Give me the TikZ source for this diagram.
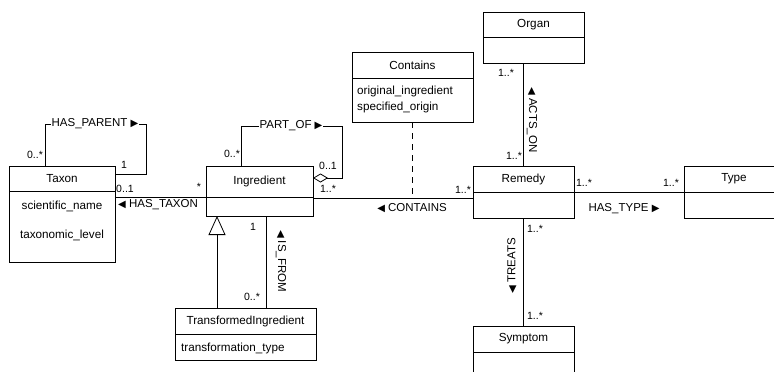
\documentclass[tikz,border=0pt]{standalone}
\usepackage{fontspec}
\setmainfont{Liberation Sans}
\newfontfamily\symfont{DejaVu Sans}
\usetikzlibrary{arrows.meta}

% small direction triangles for association names
\newcommand\dirleft{{\symfont\fontsize{10}{11}\selectfont ◀}}
\newcommand\dirright{{\symfont\fontsize{10}{11}\selectfont ▶}}

\tikzset{
  ln/.style={line width=0.8pt},
  classbox/.style={draw, line width=0.8pt, anchor=north west, inner sep=0pt, outer sep=0pt},
  titletext/.style={font=\fontsize{11.7}{14}\selectfont, inner sep=0pt},
  attrtext/.style={font=\fontsize{11.7}{14}\selectfont, inner sep=0pt},
  assoclabel/.style={font=\fontsize{11.5}{14}\selectfont, inner sep=1pt},
  mult/.style={font=\fontsize{10.5}{12}\selectfont, inner sep=0pt},
  dashline/.style={line width=0.8pt, dash pattern=on 6pt off 5pt},
}

% class box: name, x1, y1, x2, y2, divider y, title
\newcommand\umlclass[7]{%
  \node[classbox, minimum width={(#4-#2)*1pt}, minimum height={(#5-#3)*1pt}] (#1) at (#2,#3) {};
  \draw[ln] (#2,#6) -- (#4,#6);
  \node[titletext] (#1-title) at ({(#2+#4)/2},{(#3+#6)/2}) {#7};
}

\begin{document}
\begin{tikzpicture}[x=1pt,y=-1pt]
  \path[use as bounding box, clip] (0,0) rectangle (774,372);
  \fill[white] (0,0) rectangle (774,372);

  % classes
  \umlclass{taxon}{9}{166}{115}{262}{191}{Taxon}
  \node[attrtext] (taxon-a1) at (62,206) {scientific\_name};
  \node[attrtext] (taxon-a2) at (62,235) {taxonomic\_level};

  \umlclass{ingr}{206}{166}{313}{216}{197}{Ingredient}

  \umlclass{ti}{175}{308}{316}{360}{334}{TransformedIngredient}
  \node[attrtext, anchor=west] (ti-a1) at (181,348) {transformation\_type};

  \umlclass{contains}{352}{52}{473}{122}{78}{Contains}
  \node[attrtext, anchor=west] (contains-a1) at (357,91) {original\_ingredient};
  \node[attrtext, anchor=west] (contains-a2) at (357,107) {specified\_origin};

  \umlclass{organ}{483}{12}{584}{63}{37}{Organ}
  \umlclass{remedy}{473}{166}{574}{218}{192}{Remedy}
  \umlclass{type}{684}{166}{784}{218}{192}{Type}
  \umlclass{symptom}{473}{326}{574}{390}{352}{Symptom}

  % HAS_PARENT (self association of Taxon)
  \draw[ln] (45,0 |- taxon.north) -- (45,124) -- (146,124) -- (146,174) -- (taxon.east |- 0,174);
  \node[assoclabel, fill=white] (hasparent) at (95,124) {HAS\_PARENT \dirright};
  \node[mult] (hp-m1) at (35,155) {0..*};
  \node[mult] (hp-m2) at (124,165) {1};

  % PART_OF (aggregation of Ingredient)
  \draw[ln, -{Diamond[open, length=15pt, width=9pt, line width=0.8pt]}]
    (241,0 |- ingr.north) -- (241,126) -- (342,126) -- (342,178) -- (ingr.east |- 0,178);
  \node[assoclabel, fill=white] (partof) at (291,126) {PART\_OF \dirright};
  \node[mult] (po-m1) at (232,154) {0..*};
  \node[mult] (po-m2) at (328,166) {0..1};

  % HAS_TAXON
  \draw[ln] (taxon.east |- 0,197) -- (ingr.west |- 0,197);
  \node[assoclabel] (hastaxon) at (158,205) {\dirleft\ HAS\_TAXON};
  \node[mult] (ht-m1) at (125,189) {0..1};
  \node[mult] (ht-m2) at (199,187) {*};

  % CONTAINS with association class
  \draw[ln] (ingr.east |- 0,198) -- (remedy.west |- 0,198);
  \draw[dashline] (contains.south) -- (contains.south |- 0,198);
  \node[assoclabel] (containslbl) at (412,208) {\dirleft\ CONTAINS};
  \node[mult] (co-m1) at (328,189) {1..*};
  \node[mult] (co-m2) at (463,190) {1..*};

  % ACTS_ON
  \draw[ln] (remedy.north |- organ.south) -- (remedy.north);
  \node[assoclabel, rotate=-90] (actson) at (532,120) {\dirleft\ ACTS\_ON};
  \node[mult] (ao-m1) at (506,73) {1..*};
  \node[mult] (ao-m2) at (514,156) {1..*};

  % HAS_TYPE
  \draw[ln] (remedy.east |- 0,192) -- (type.west |- 0,192);
  \node[assoclabel] (hastype) at (624,209) {HAS\_TYPE \dirright};
  \node[mult] (hy-m1) at (584,183) {1..*};
  \node[mult] (hy-m2) at (671,183) {1..*};

  % TREATS
  \draw[ln] (remedy.south) -- (symptom.north);
  \node[assoclabel, rotate=90] (treats) at (512,266) {\dirleft\ TREATS};
  \node[mult] (tr-m1) at (535,229) {1..*};
  \node[mult] (tr-m2) at (535,316) {1..*};

  % generalization TransformedIngredient -> Ingredient
  \draw[ln, -{Triangle[open, length=19pt, width=17pt, line width=0.8pt]}]
    (217,0 |- ti.north) -- (217,0 |- ingr.south);

  % IS_FROM
  \draw[ln] (266,0 |- ingr.south) -- (266,0 |- ti.north);
  \node[assoclabel, rotate=-90] (isfrom) at (281,261) {\dirleft\ IS\_FROM};
  \node[mult] (if-m1) at (253,227) {1};
  \node[mult] (if-m2) at (252,297) {0..*};
\end{tikzpicture}
\end{document}
